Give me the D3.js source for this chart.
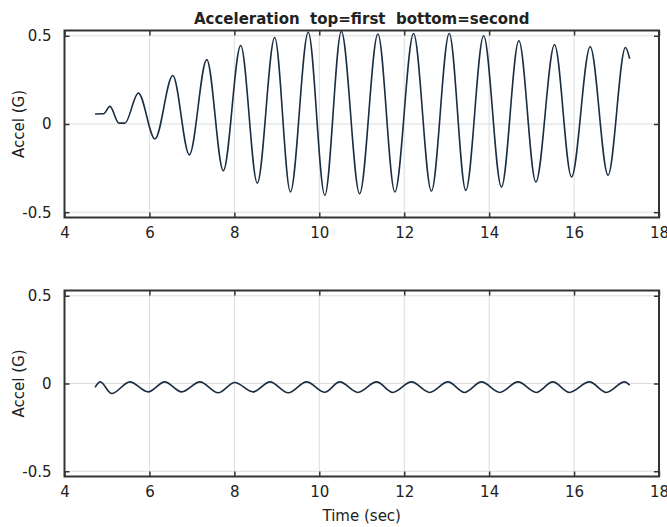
<!DOCTYPE html>
<html>
<head>
  <meta charset="utf-8">
  <script src="https://d3js.org/d3.v7.min.js"></script>
  <style>
    body { margin: 0; background: #fff; }
    text { font-family: "DejaVu Sans", "Liberation Sans", Arial, sans-serif; fill: #222; }
  </style>
</head>
<body>
<script>
  // tick values
  var xTicks = [4, 6, 8, 10, 12, 14, 16, 18];
  var yTicks = [-0.5, 0, 0.5];

  // first sensor (top), peaks and troughs
  var topTime = [4.72, 4.92, 5.07, 5.28, 5.42, 5.74, 6.13, 6.55, 6.94, 7.35, 7.74, 8.15,
                 8.54, 8.95, 9.32, 9.74, 10.13, 10.52, 10.95, 11.38, 11.78, 12.22, 12.64,
                 13.06, 13.45, 13.87, 14.29, 14.70, 15.10, 15.54, 15.94, 16.38, 16.80,
                 17.21, 17.31];
  var topAccel = [0.057, 0.058, 0.100, 0.005, 0.005, 0.175, -0.085, 0.275, -0.175, 0.365,
                  -0.265, 0.445, -0.335, 0.490, -0.385, 0.520, -0.404, 0.525, -0.395, 0.510,
                  -0.385, 0.513, -0.380, 0.513, -0.376, 0.500, -0.357, 0.472, -0.329, 0.449,
                  -0.300, 0.438, -0.290, 0.434, 0.370];

  // second sensor (bottom)
  var bottomTime = [4.72, 4.84, 5.11, 5.54, 5.97, 6.36, 6.76, 7.19, 7.62, 8.01, 8.44, 8.84,
                    9.27, 9.70, 10.13, 10.48, 10.91, 11.35, 11.73, 12.17, 12.60, 13.03,
                    13.42, 13.82, 14.25, 14.68, 15.11, 15.50, 15.89, 16.36, 16.76, 17.19,
                    17.31];
  var bottomAccel = [-0.022, 0.009, -0.057, 0.009, -0.048, 0.009, -0.048, 0.009, -0.053,
                     0.006, -0.048, 0.009, -0.053, 0.009, -0.050, 0.009, -0.051, 0.009,
                     -0.051, 0.009, -0.051, 0.009, -0.051, 0.009, -0.051, 0.009, -0.051,
                     0.009, -0.051, 0.009, -0.051, 0.009, -0.010];

  var width = 667, height = 527;
  var left = 64.5, right = 659;

  var svg = d3.select("body").append("svg")
      .attr("width", width)
      .attr("height", height);

  var x = d3.scaleLinear().domain([4, 18]).range([left, right]);

  function panel(times, accel, top, bottom) {
    var y = d3.scaleLinear().domain([-0.53, 0.53]).range([bottom, top]);
    var g = svg.append("g");

    // grid
    g.selectAll(".gx").data(xTicks).enter().append("line")
        .attr("x1", d => x(d)).attr("x2", d => x(d))
        .attr("y1", top).attr("y2", bottom)
        .attr("stroke", "#dcdcdc").attr("stroke-width", 1);
    g.selectAll(".gy").data(yTicks).enter().append("line")
        .attr("x1", left).attr("x2", right)
        .attr("y1", d => y(d)).attr("y2", d => y(d))
        .attr("stroke", "#dcdcdc").attr("stroke-width", 1);

    // trace
    var pts = times.map((t, i) => [t, accel[i]]);
    g.append("path")
        .datum(pts)
        .attr("fill", "none")
        .attr("stroke", "#1a2d42")
        .attr("stroke-width", 1.6)
        .attr("d", d3.line().x(d => x(d[0])).y(d => y(d[1])).curve(d3.curveMonotoneX));

    // axes, ticks pointing inward
    g.append("g").attr("transform", "translate(0," + bottom + ")")
        .call(d3.axisBottom(x).tickValues(xTicks).tickSize(-5).tickPadding(10));
    g.append("g").attr("transform", "translate(0," + top + ")")
        .call(d3.axisTop(x).tickValues(xTicks).tickSize(-5).tickFormat(""));
    g.append("g").attr("transform", "translate(" + left + ",0)")
        .call(d3.axisLeft(y).tickValues(yTicks).tickSize(-5).tickPadding(13).tickFormat(d => String(d)));
    g.append("g").attr("transform", "translate(" + right + ",0)")
        .call(d3.axisRight(y).tickValues(yTicks).tickSize(-5).tickFormat(""));

    g.selectAll(".domain").remove();
    g.selectAll(".tick line").attr("stroke", "#333").attr("stroke-width", 1.5);
    g.selectAll(".tick text").style("font-size", "15px").attr("fill", "#222");

    g.append("rect")
        .attr("x", left).attr("y", top)
        .attr("width", right - left).attr("height", bottom - top)
        .attr("fill", "none").attr("stroke", "#333").attr("stroke-width", 2);

    g.append("text")
        .attr("transform", "translate(19," + y(0) + ") rotate(-90)")
        .attr("text-anchor", "middle")
        .attr("dy", "0.35em")
        .style("font-size", "15px")
        .text("Accel (G)");
    return g;
  }

  panel(topTime, topAccel, 30.5, 217.5);
  panel(bottomTime, bottomAccel, 290.5, 476.5);

  svg.append("text")
      .attr("x", (left + right) / 2).attr("y", 24)
      .attr("text-anchor", "middle")
      .style("font-size", "15px").style("font-weight", "bold")
      .attr("xml:space", "preserve")
      .text("Acceleration  top=first  bottom=second");

  svg.append("text")
      .attr("x", (left + right) / 2).attr("y", 521)
      .attr("text-anchor", "middle")
      .style("font-size", "15px")
      .text("Time (sec)");
</script>
</body>
</html>
